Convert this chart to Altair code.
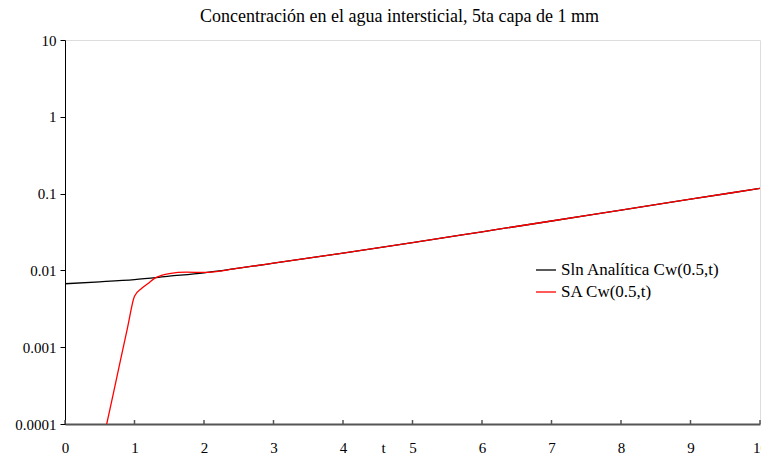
import altair as alt
import pandas as pd

# ---- data ----
name_a = "Sln Analítica Cw(0.5,t)"
name_b = "SA Cw(0.5,t)"

t_analitica = [0, 0.5, 1, 1.5, 2, 2.5, 3, 4, 5, 6, 7, 8, 9, 10]
c_analitica = [0.0067, 0.0071, 0.0076, 0.0084, 0.0093, 0.0107, 0.0124, 0.0168, 0.0230,
               0.0318, 0.0440, 0.0610, 0.0845, 0.117]

t_sa = [0.55, 0.6, 0.7, 0.8, 0.9, 1.0, 1.1, 1.2, 1.3, 1.4, 1.5, 1.75, 2.0, 2.5, 3, 4, 5,
        6, 7, 8, 9, 10]
c_sa = [0.000062, 0.0001, 0.00026, 0.00069, 0.0018, 0.0046, 0.0058, 0.0068, 0.0080,
        0.0087, 0.0091, 0.0095, 0.0094, 0.0107, 0.0124, 0.0168, 0.0230, 0.0318, 0.0440,
        0.0610, 0.0845, 0.117]

x_ticks = [0, 1, 2, 3, 4, 5, 6, 7, 8, 9, 10]
y_ticks = [0.0001, 0.001, 0.01, 0.1, 1, 10]

title_text = "Concentración en el agua intersticial, 5ta capa de 1 mm"
x_title = "t"

FONT = "Times New Roman"
W, H = 695, 384

df_a = pd.DataFrame({"t": t_analitica, "c": c_analitica, "serie": name_a})
df_b = pd.DataFrame({"t": t_sa, "c": c_sa, "serie": name_b})
df_ticks = pd.DataFrame({"t": x_ticks})

x_scale = alt.Scale(domain=[0, 10], nice=False, zero=False)
y_scale = alt.Scale(type="log", domain=[0.0001, 10], nice=False)

x_enc = alt.X(
    "t:Q", scale=x_scale,
    axis=alt.Axis(values=x_ticks, format="d", title=x_title, grid=False, ticks=False,
                  domainColor="#555555", domainWidth=2, labelFont=FONT, labelFontSize=15,
                  labelColor="black", labelPadding=16, labelFlush=False,
                  titleFont=FONT, titleFontSize=15, titleFontWeight="normal",
                  titleColor="black", titleX=318, titleY=16),
)
y_enc = alt.Y(
    "c:Q", scale=y_scale,
    axis=alt.Axis(values=y_ticks, labelExpr="format(datum.value, '~f')", title=None,
                  grid=False, tickSize=5, tickColor="black", domainColor="black",
                  domainWidth=1, labelFont=FONT, labelFontSize=15, labelColor="black",
                  labelPadding=4),
)
color = alt.Color(
    "serie:N",
    scale=alt.Scale(domain=[name_a, name_b], range=["black", "red"]),
    legend=alt.Legend(title=None, orient="none", legendX=470, legendY=219, padding=0,
                      symbolType="stroke", symbolSize=400, symbolStrokeWidth=1.3,
                      labelFont=FONT, labelFontSize=17, labelColor="black",
                      labelOffset=4, rowPadding=3),
)

line_a = alt.Chart(df_a).mark_line(interpolate="monotone", strokeWidth=1.3, clip=True).encode(
    x=x_enc, y=y_enc, color=color)
line_b = alt.Chart(df_b).mark_line(interpolate="monotone", strokeWidth=1.3, clip=True).encode(
    x=alt.X("t:Q", scale=x_scale), y=alt.Y("c:Q", scale=y_scale), color=color)

ticks = alt.Chart(df_ticks).mark_rule(color="#555555", strokeWidth=1.5).encode(
    x=alt.X("t:Q", scale=x_scale), y=alt.value(H), y2=alt.value(H - 4))

chart = alt.layer(line_a, line_b, ticks).properties(
    width=W, height=H,
    title=alt.Title(title_text, font=FONT, fontSize=18, fontWeight="normal",
                    color="black", anchor="middle", dx=-13, offset=7),
    autosize=alt.AutoSizeParams(type="none"),
    padding={"left": 57, "top": 32, "right": 1, "bottom": 32},
).configure_view(stroke="#999999", strokeWidth=1).configure(background="white")

chart.save("out.html", embed_options={"renderer": "svg", "actions": False})
